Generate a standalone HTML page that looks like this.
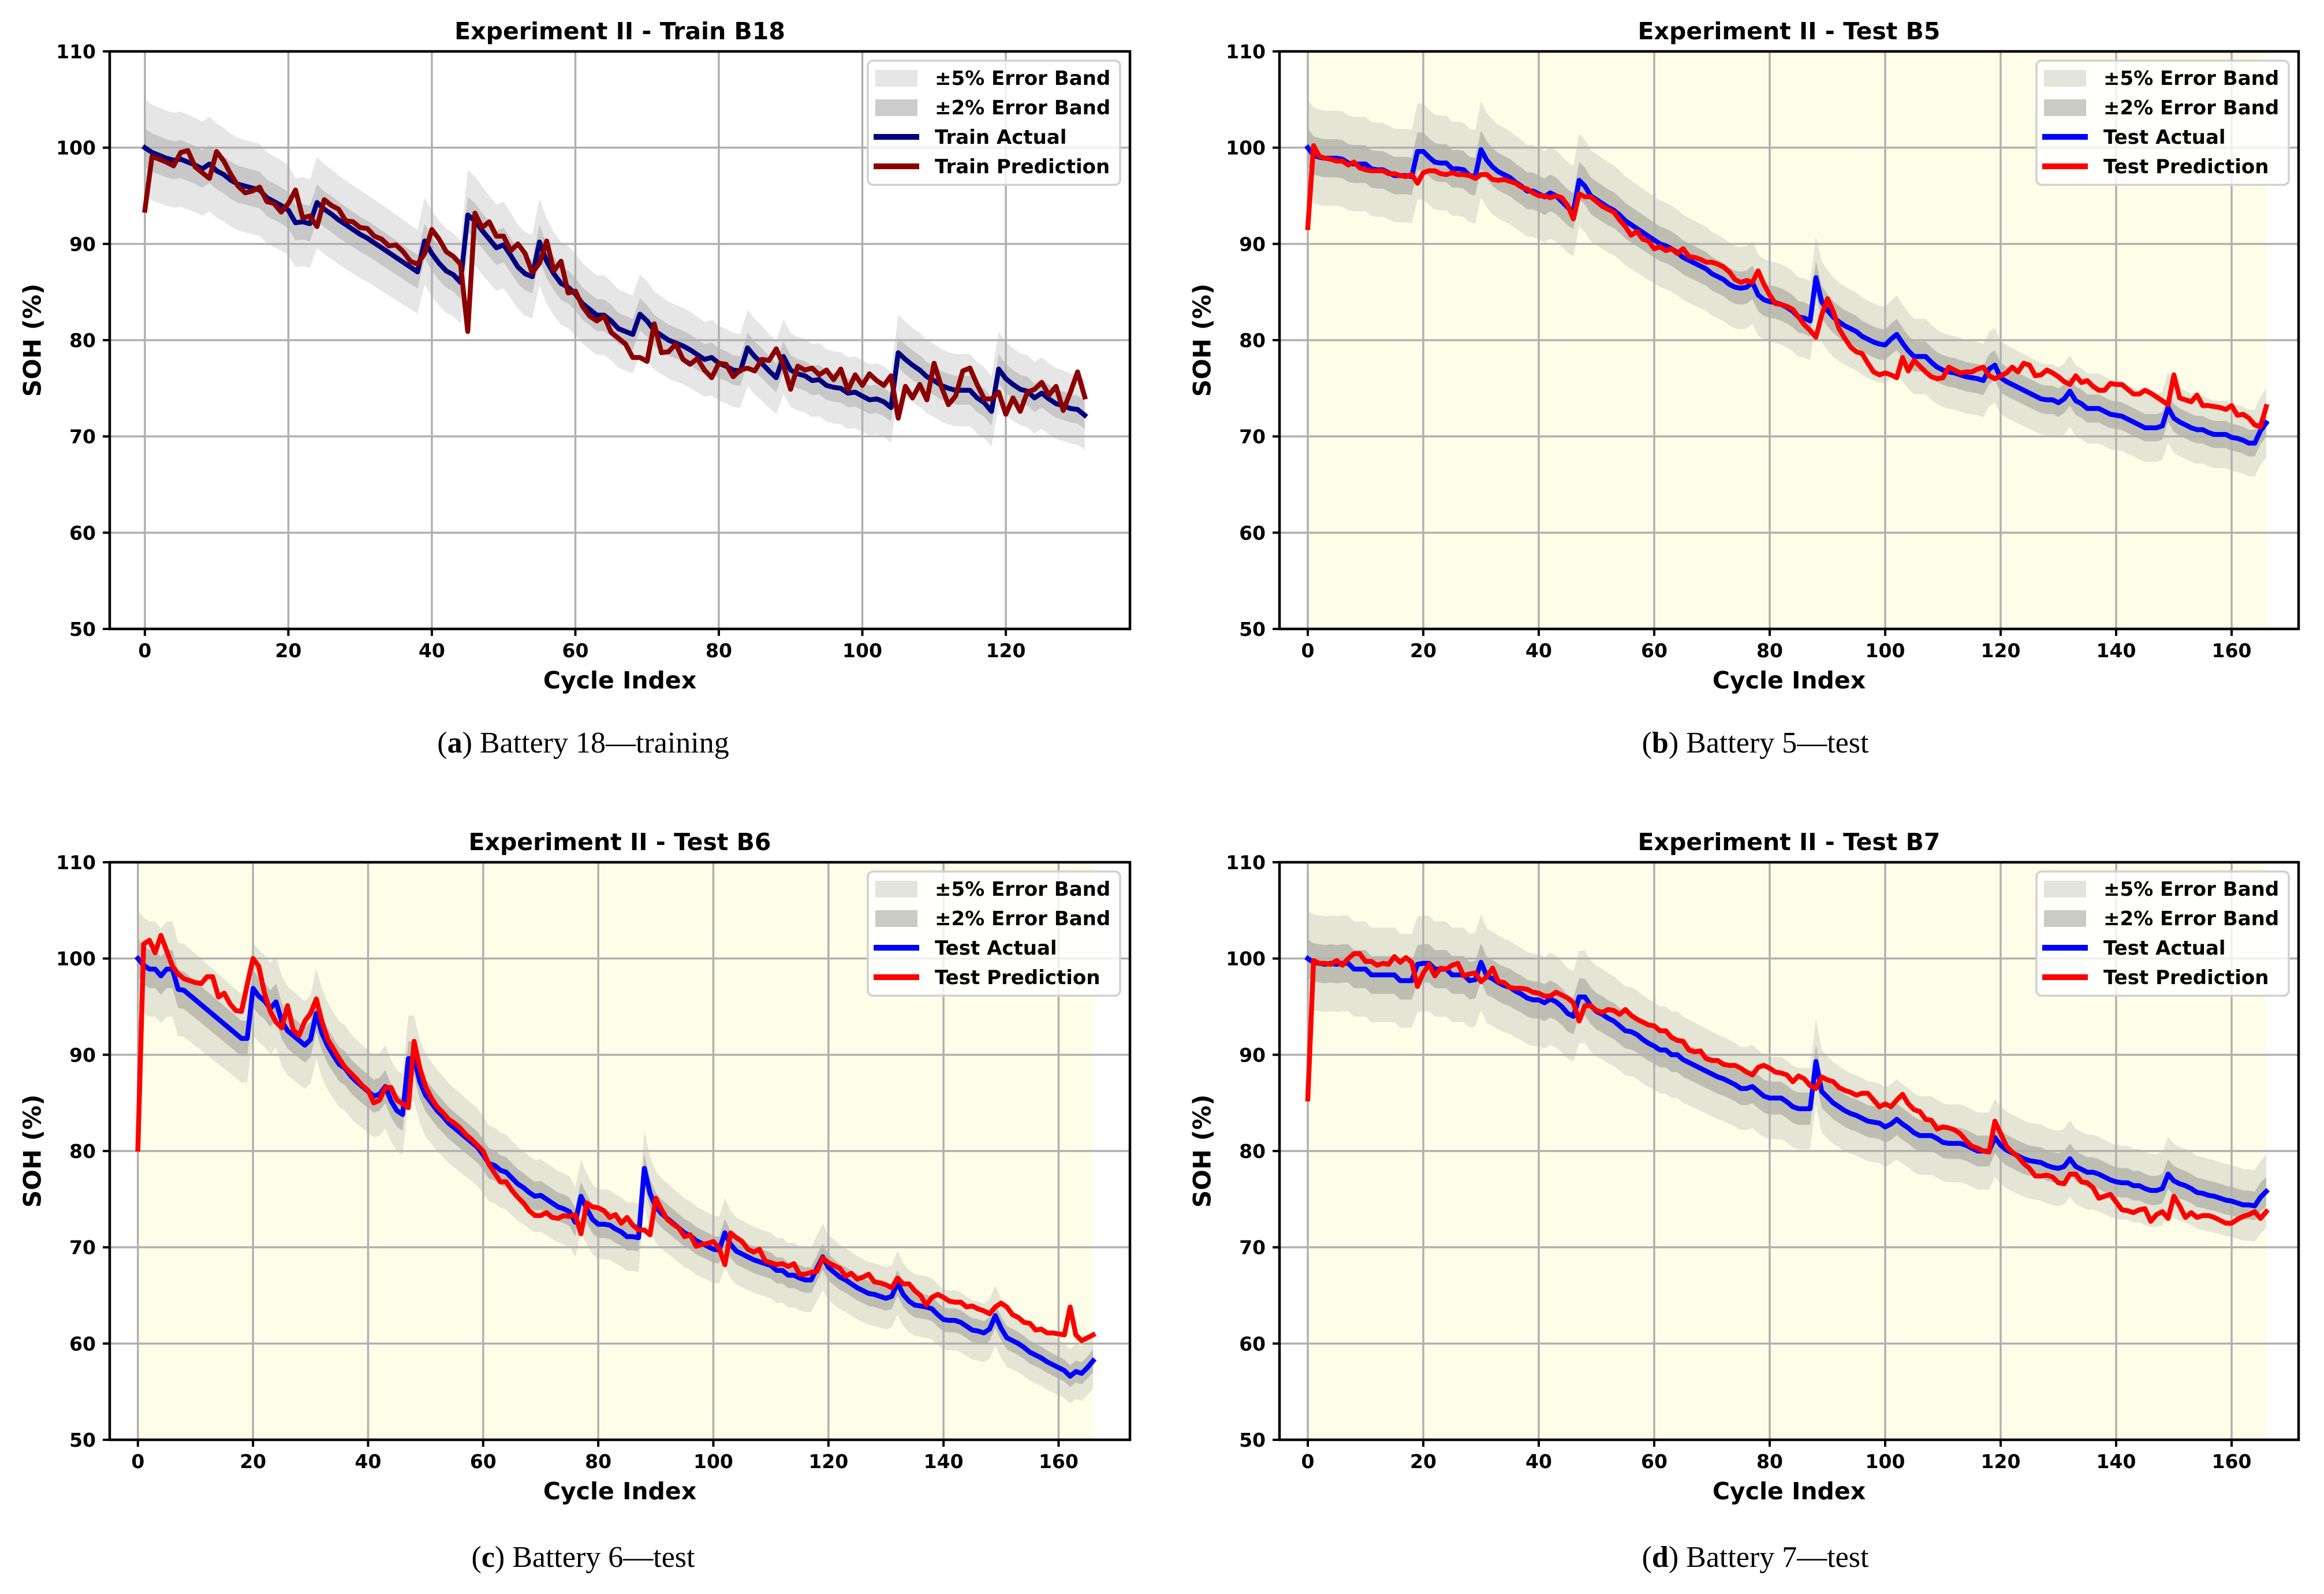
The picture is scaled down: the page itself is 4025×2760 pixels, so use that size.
<!DOCTYPE html>
<html><head><meta charset="utf-8"><title>Experiment II SOH</title>
<style>
html,body{margin:0;padding:0;background:#fff;}
svg{display:block;}
.t{font-family:"DejaVu Sans","Liberation Sans",sans-serif;font-weight:bold;}
.cap{font-family:"Liberation Serif","DejaVu Serif",serif;}
</style></head>
<body>
<svg id="fig" xmlns="http://www.w3.org/2000/svg" width="4025" height="2760" viewBox="0 0 4025 2760"></svg>
<script>
// ---- Panel (a) Battery 18 training ----
const aActual=[100,99.5,99.2,98.9,98.7,98.8,98.5,98.2,97.8,98.3,97.6,97.2,96.6,96.2,96.0,95.8,95.6,94.8,94.4,94.0,93.5,92.2,92.3,92.1,94.3,93.6,93.1,92.5,92.0,91.5,91.0,90.6,90.1,89.6,89.1,88.6,88.1,87.6,87.1,90.3,89.0,88.0,87.2,86.8,86.0,93.0,92.4,91.4,90.5,89.6,89.9,88.8,87.6,86.9,86.6,90.2,88.2,86.9,85.9,85.5,84.8,83.8,83.2,82.6,82.6,82.0,81.2,80.9,80.6,82.7,82.0,81.0,80.5,80.0,79.7,79.4,79.0,78.5,78.0,78.2,77.6,77.3,76.9,76.8,79.2,78.3,77.6,76.8,76.1,78.3,76.9,76.5,76.3,75.8,75.9,75.3,75.1,75.0,74.5,74.6,74.2,73.8,73.9,73.6,73.0,78.7,78.0,77.4,76.9,76.2,75.8,75.3,75.0,74.8,74.8,74.8,74.0,73.5,72.6,77.0,76.0,75.4,74.9,74.7,74.0,74.5,73.9,73.4,73.2,72.9,72.8,72.2];
const aPred=[93.5,99.1,98.8,98.5,98.1,99.5,99.7,98.0,97.4,96.8,99.6,98.6,97.2,96.0,95.3,95.5,95.9,94.4,94.2,93.3,94.2,95.6,92.7,92.9,91.8,94.6,94.0,93.6,92.4,92.3,91.7,91.6,90.8,90.5,89.8,89.9,89.2,88.2,87.9,89.0,91.5,90.5,89.2,88.7,87.9,80.9,93.2,91.7,92.3,90.8,90.8,89.3,90.0,89.0,87.0,88.0,90.3,87.2,88.2,84.9,85.1,83.5,82.5,82.0,82.5,80.8,80.2,79.6,78.2,78.2,77.8,81.7,78.7,78.8,79.6,78.0,77.5,78.1,76.9,76.1,77.6,77.5,76.2,76.9,77.1,76.8,78.0,77.9,79.1,77.4,74.9,77.3,76.9,77.1,76.4,76.9,75.9,77.0,74.8,76.4,75.3,76.5,75.8,75.3,76.3,71.9,75.2,74.0,75.4,73.8,77.6,75.2,73.3,74.2,76.8,77.1,75.4,73.9,73.9,74.6,72.3,74.0,72.6,74.6,74.9,75.6,74.3,75.2,72.7,74.6,76.7,74.1];
// ---- Panel (b) Battery 5 test ----
const bActual=[100,99.2,99.0,98.9,98.9,98.9,98.8,98.4,98.3,98.3,98.3,97.8,97.7,97.7,97.4,97.1,97.1,97.1,97.0,99.6,99.6,99.0,98.5,98.4,98.4,97.8,97.8,97.7,97.1,97.0,99.8,98.7,98.0,97.5,97.2,96.9,96.4,96.0,95.5,95.5,95.2,94.9,95.3,95.0,94.4,93.8,93.4,96.6,96.0,95.0,94.6,94.2,93.8,93.5,93.0,92.4,92.0,91.6,91.2,90.8,90.4,90.0,89.8,89.5,89.1,88.6,88.3,88.0,87.7,87.4,86.9,86.6,86.3,85.8,85.5,85.4,85.5,86.0,84.7,84.2,84.0,83.9,83.7,83.4,83.0,82.4,82.3,82.0,86.5,84.0,83.1,82.4,81.9,81.5,81.2,80.9,80.4,80.1,79.8,79.6,79.5,80.1,80.6,79.7,78.9,78.3,78.3,78.3,77.7,77.2,76.9,76.7,76.6,76.4,76.2,76.1,76.0,75.8,77.0,77.4,76.1,75.7,75.4,75.1,74.8,74.5,74.2,73.9,73.8,73.8,73.5,73.9,74.7,73.7,73.4,72.9,72.9,72.9,72.6,72.3,72.2,72.1,71.8,71.5,71.2,70.9,70.9,70.9,71.1,73.0,71.9,71.5,71.2,70.9,70.7,70.7,70.4,70.2,70.2,70.2,69.9,69.8,69.6,69.3,69.3,70.6,71.4];
const bPred=[91.7,100.2,99.1,98.9,98.8,98.6,98.6,98.2,98.5,97.9,97.7,97.6,97.6,97.6,97.3,97.3,97.1,97.0,97.2,96.3,97.4,97.6,97.6,97.3,97.2,97.4,97.2,97.2,97.1,96.8,97.2,97.2,96.7,96.6,96.7,96.5,96.3,95.9,95.7,95.3,95.0,95.0,94.8,95.0,94.8,94.0,92.6,95.2,94.9,94.9,94.4,93.9,93.6,93.3,92.5,91.8,90.9,91.3,90.5,90.3,89.5,89.7,89.3,89.5,89.0,89.5,88.7,88.6,88.4,88.1,88.1,87.9,87.6,87.1,86.3,86.0,86.2,86.0,87.2,85.8,84.7,83.8,83.7,83.5,83.2,82.4,81.6,81.0,80.3,82.6,84.3,83.0,81.2,80.2,79.3,78.8,78.6,77.6,76.7,76.4,76.6,76.4,76.1,78.2,76.8,77.9,77.3,76.7,76.2,76.0,76.1,77.2,76.9,76.6,76.7,76.7,77.0,77.2,76.3,76.0,76.3,76.6,77.2,76.7,77.6,77.4,76.3,76.4,76.9,76.6,76.2,75.7,75.4,76.3,75.6,75.8,75.2,74.8,74.8,75.5,75.4,75.4,74.9,74.4,74.4,74.8,74.5,74.1,73.7,73.3,76.4,74.0,73.8,73.6,74.3,73.2,73.2,73.1,73.0,72.8,73.2,72.2,72.3,71.9,71.2,71.0,73.1];
// ---- Panel (c) Battery 6 test ----
const cActual=[100,99.3,98.9,98.9,98.2,98.9,98.9,96.8,96.7,96.2,95.7,95.2,94.7,94.2,93.7,93.2,92.7,92.2,91.7,91.7,96.9,96.1,95.6,94.8,95.5,93.5,92.5,92.0,91.5,91.0,91.6,94.3,92.2,90.9,89.9,89.0,88.6,87.8,87.2,86.7,86.2,85.7,85.9,86.7,85.2,84.2,83.8,89.6,89.6,87.2,85.8,85.0,84.2,83.6,82.9,82.4,81.9,81.4,80.9,80.4,79.6,78.7,78.5,78.0,77.8,77.2,76.6,76.2,75.7,75.3,75.4,75.0,74.6,74.2,74.0,73.7,72.6,75.3,74.0,72.9,72.4,72.4,72.3,71.9,71.6,71.1,71.1,71.0,78.2,75.6,74.2,73.5,73.0,72.5,72.0,71.5,71.2,70.7,70.4,70.1,69.8,69.7,71.5,70.3,69.6,69.3,69.0,68.7,68.5,68.3,68.1,67.6,67.6,67.1,67.1,66.8,66.6,66.6,67.8,69.0,67.9,67.4,66.9,66.6,66.2,65.8,65.5,65.2,65.1,64.9,64.7,64.9,66.3,65.1,64.4,64.0,63.9,63.8,63.6,63.0,62.5,62.4,62.4,62.2,61.8,61.4,61.3,61.1,61.5,62.9,61.6,60.6,60.3,60.0,59.6,59.1,58.8,58.5,58.1,57.8,57.5,57.2,56.6,57.1,56.9,57.5,58.2];
const cPred=[80.2,101.5,101.9,100.6,102.4,100.8,99.2,98.4,97.9,97.7,97.5,97.4,98.1,98.1,96.0,96.4,95.3,94.6,94.5,97.3,100.0,99.2,96.4,94.5,93.4,92.8,95.1,92.6,92.0,93.5,94.3,95.8,93.4,91.6,90.6,89.6,88.7,88.1,87.5,86.8,86.3,85.0,85.3,86.6,86.6,85.3,84.9,84.5,91.4,88.6,86.7,85.5,84.6,84.0,83.3,82.9,82.4,81.7,81.2,80.6,80.0,78.6,77.7,76.8,76.8,75.9,75.2,74.6,73.8,73.3,73.3,73.6,73.1,73.0,73.3,73.2,73.4,71.4,74.6,74.2,74.1,73.8,73.1,73.4,72.5,73.1,72.3,71.8,71.8,71.3,75.1,73.9,72.9,72.4,72.0,71.1,71.3,70.1,70.3,70.4,70.6,69.9,68.2,71.5,71.0,70.6,69.8,69.5,69.8,68.6,68.4,68.2,68.3,68.0,68.3,67.2,67.2,67.4,67.5,68.9,68.4,68.1,67.8,67.0,67.3,66.7,66.9,67.2,66.4,66.3,66.1,65.8,66.8,66.2,66.2,65.5,65.0,64.0,64.8,65.1,64.8,64.4,64.3,64.3,63.8,63.9,63.6,63.4,63.1,63.8,64.2,63.8,63.0,62.7,62.2,62.1,61.4,61.5,61.1,61.1,61.0,60.9,63.8,60.9,60.3,60.6,60.9];
// ---- Panel (d) Battery 7 test ----
const dActual=[100,99.6,99.5,99.4,99.5,99.4,99.5,99.5,98.9,98.9,98.9,98.3,98.3,98.3,98.3,98.3,97.7,97.7,97.7,99.4,99.5,99.5,98.9,98.9,98.9,98.3,98.3,98.3,97.7,97.8,99.6,98.2,97.9,97.5,97.2,97.0,96.6,96.3,95.9,95.7,95.7,95.4,95.8,95.5,95.0,94.3,94.0,96.0,96.0,95.1,94.5,94.2,93.8,93.5,93.0,92.5,92.4,92.1,91.6,91.2,90.9,90.5,90.5,90.0,90.0,89.5,89.2,88.9,88.6,88.3,88.0,87.7,87.5,87.2,86.9,86.5,86.5,86.7,86.2,85.7,85.5,85.5,85.5,85.1,84.6,84.4,84.4,84.4,89.3,86.2,85.6,85.0,84.6,84.2,83.9,83.7,83.4,83.1,83.0,82.9,82.5,82.8,83.3,82.8,82.4,81.9,81.6,81.6,81.6,81.3,80.9,80.8,80.8,80.8,80.6,80.3,80.0,80.0,80.0,81.4,80.6,80.1,79.8,79.5,79.2,79.0,78.9,78.8,78.5,78.3,78.2,78.4,79.2,78.4,78.1,77.8,77.8,77.6,77.3,77.0,76.8,76.7,76.7,76.4,76.4,76.1,75.9,75.9,76.1,77.6,76.9,76.6,76.4,76.1,75.7,75.6,75.4,75.3,75.1,74.9,74.8,74.6,74.4,74.4,74.3,75.2,75.8];
const dPred=[85.4,99.8,99.5,99.5,99.4,99.8,99.3,100.0,100.5,100.5,99.7,99.7,99.3,99.5,99.4,100.2,99.6,100.1,99.6,97.1,98.5,99.4,98.2,99.0,98.9,99.3,99.5,98.2,98.4,98.5,97.6,98.1,99.0,97.6,97.5,97.0,96.9,96.9,96.8,96.5,96.4,96.1,96.1,96.5,96.2,95.9,95.4,93.5,95.1,95.1,94.6,94.4,94.7,94.6,94.2,94.7,94.1,93.7,93.4,93.1,93.0,92.5,92.5,91.8,91.5,91.4,90.5,90.3,90.4,89.6,89.4,89.4,89.0,88.9,88.9,88.6,88.2,87.9,88.7,88.9,88.6,88.2,88.1,87.9,87.2,87.8,87.5,86.8,86.5,87.7,87.4,87.2,86.6,86.3,86.1,85.8,86.0,86.0,85.3,84.6,84.9,84.6,85.3,85.9,84.9,84.3,84.1,83.3,83.2,82.3,82.5,82.4,82.2,81.8,81.1,80.5,80.3,80.0,79.9,83.1,81.8,80.5,79.9,79.4,78.7,78.2,77.4,77.4,77.5,77.3,76.7,76.6,77.6,77.6,76.8,76.7,76.2,75.1,75.3,75.5,74.7,73.9,73.8,73.6,73.9,74.0,72.7,73.4,73.7,73.0,75.3,74.3,73.1,73.6,73.1,73.3,73.3,73.1,72.8,72.5,72.5,72.9,73.2,73.4,73.7,73.0,73.7];
const yTicks=[50,60,70,80,90,100,110];
const xTicksA=[0,20,40,60,80,100,120];
const xTicksTest=[0,20,40,60,80,100,120,140,160];
const titles=["Experiment II - Train B18","Experiment II - Test B5","Experiment II - Test B6","Experiment II - Test B7"];
const legendLabelsTrain=["±5% Error Band","±2% Error Band","Train Actual","Train Prediction"];
const legendLabelsTest=["±5% Error Band","±2% Error Band","Test Actual","Test Prediction"];
const captionLetters=["a","b","c","d"];
const captionTexts=[" Battery 18—training"," Battery 5—test"," Battery 6—test"," Battery 7—test"];

const NS="http://www.w3.org/2000/svg";
const svg=document.getElementById('fig');
function mk(tag,parent,attrs){const e=document.createElementNS(NS,tag);for(const k in attrs)e.setAttribute(k,attrs[k]);parent.appendChild(e);return e;}

const panels=[
 {id:'a',L:190,R:1957,T:89,B:1089,xmin:-4.9,xmax:137.3,act:aActual,pred:aPred,xt:xTicksA,test:false,capX:1010,capY:1303},
 {id:'b',L:2216,R:3981,T:89,B:1089,xmin:-4.9,xmax:171.6,act:bActual,pred:bPred,xt:xTicksTest,test:true,capX:3040,capY:1303},
 {id:'c',L:190,R:1957,T:1493,B:2493,xmin:-4.9,xmax:172.4,act:cActual,pred:cPred,xt:xTicksTest,test:true,capX:1010,capY:2713},
 {id:'d',L:2216,R:3981,T:1493,B:2493,xmin:-4.9,xmax:171.6,act:dActual,pred:dPred,xt:xTicksTest,test:true,capX:3040,capY:2713}
];

panels.forEach((p,pi)=>{
 const g=mk('g',svg,{});
 
 
 const X=v=>p.L+(v-p.xmin)/(p.xmax-p.xmin)*(p.R-p.L);
 const Y=v=>p.B-(v-50)/60*(p.B-p.T);
 const n=p.act.length;
 // yellow background
 if(p.test){
  const bg=mk('rect',g,{x:X(0),y:p.T,width:X(n-1)-X(0),height:p.B-p.T,fill:'#fefee8'});
  
  
 }
 const c5=p.test?'#e5e5d5':'#e6e6e6';
 const c2=p.test?'#bdbdb2':'#c8c8c8';
 function band(f,col,name){
  let d='';
  for(let i=0;i<n;i++)d+=(i?'L':'M')+X(i).toFixed(1)+','+Y(p.act[i]*(1+f)).toFixed(1);
  for(let i=n-1;i>=0;i--)d+='L'+X(i).toFixed(1)+','+Y(p.act[i]*(1-f)).toFixed(1);
  const e=mk('path',g,{d:d+'Z',fill:col,stroke:'none'});
  
  
 }
 band(0.05,c5,'error-band-5pct');
 band(0.02,c2,'error-band-2pct');
 // grid
 yTicks.forEach(t=>{
  const l=mk('line',g,{x1:p.L,x2:p.R,y1:Y(t),y2:Y(t),stroke:'#b0b0b0','stroke-width':3.5});
  
  
 });
 p.xt.forEach(t=>{
  const l=mk('line',g,{x1:X(t),x2:X(t),y1:p.T,y2:p.B,stroke:'#b0b0b0','stroke-width':3.5});
  
  
 });
 function line(arr,col,name){
  let d='';
  arr.forEach((v,i)=>{d+=(i?'L':'M')+X(i).toFixed(1)+','+Y(v).toFixed(1);});
  const e=mk('path',g,{d:d,fill:'none',stroke:col,'stroke-width':8.5,'stroke-linejoin':'round','stroke-linecap':'square'});
  
  
 }
 line(p.act,p.test?'#0000ff':'#000080',p.test?'test-actual-line':'train-actual-line');
 line(p.pred,p.test?'#ff0000':'#8b0000',p.test?'test-prediction-line':'train-prediction-line');
 // spines
 const fr=mk('rect',g,{x:p.L,y:p.T,width:p.R-p.L,height:p.B-p.T,fill:'none',stroke:'#000','stroke-width':4.5});
 
 
 // y ticks
 yTicks.forEach(t=>{
  const tk=mk('line',g,{x1:p.L-12,x2:p.L,y1:Y(t),y2:Y(t),stroke:'#000','stroke-width':4});
  
  
  const tx=mk('text',g,{x:p.L-24,y:Y(t)+12,'text-anchor':'end','font-size':33,class:'t'});
  tx.textContent=t;
  
  
 });
 p.xt.forEach(t=>{
  const tk=mk('line',g,{x1:X(t),x2:X(t),y1:p.B,y2:p.B+12,stroke:'#000','stroke-width':4});
  
  
  const tx=mk('text',g,{x:X(t),y:p.B+49,'text-anchor':'middle','font-size':33,class:'t'});
  tx.textContent=t;
  
  
 });
 // title
 const ti=mk('text',g,{x:(p.L+p.R)/2,y:p.T-21,'text-anchor':'middle','font-size':41,class:'t'});
 ti.textContent=titles[pi];
 
 
 const xl=mk('text',g,{x:(p.L+p.R)/2,y:p.B+103,'text-anchor':'middle','font-size':41,class:'t'});
 xl.textContent='Cycle Index';
 
 
 const cy=(p.T+p.B)/2, cx=p.L-134;
 const yl=mk('text',g,{x:cx,y:cy,'text-anchor':'middle','dominant-baseline':'central','font-size':42,class:'t',transform:'rotate(-90 '+cx+' '+cy+')'});
 yl.textContent='SOH (%)';
 
 
 // legend
 const lg=mk('g',g,{});
 
 
 const bx=p.R-17-437, by=p.T+16;
 const box=mk('rect',lg,{x:bx,y:by,width:437,height:215,rx:9,fill:'rgba(255,255,255,0.8)',stroke:'#d0d0d0','stroke-width':3.5});
 
 
 const labels=p.test?legendLabelsTest:legendLabelsTrain;
 const swatches=[c5==='#e6e6e6'?'#e6e6e6':'#e4e4df',p.test?'#cbcbc6':'#cccccc',p.test?'#0000ff':'#000080',p.test?'#ff0000':'#8b0000'];
 labels.forEach((lab,i)=>{
  const yy=by+30+i*51;
  let sw;
  if(i<2) sw=mk('rect',lg,{x:bx+13,y:yy-14,width:73,height:29,fill:swatches[i]});
  else sw=mk('line',lg,{x1:bx+10,x2:bx+89,y1:yy,y2:yy,stroke:swatches[i],'stroke-width':10});
  
  
  const t=mk('text',lg,{x:bx+116,y:yy+12,'font-size':34,class:'t'});
  t.textContent=lab;
  
  
 });
 // caption
 const cap=mk('text',svg,{x:p.capX,y:p.capY,'text-anchor':'middle','font-size':52,class:'cap'});
 
 
 const s1=mk('tspan',cap,{});s1.textContent='(';
 const s2=mk('tspan',cap,{'font-weight':'bold'});s2.textContent=captionLetters[pi];
 const s3=mk('tspan',cap,{});s3.textContent=')'+captionTexts[pi];
});
</script>
</body></html>
